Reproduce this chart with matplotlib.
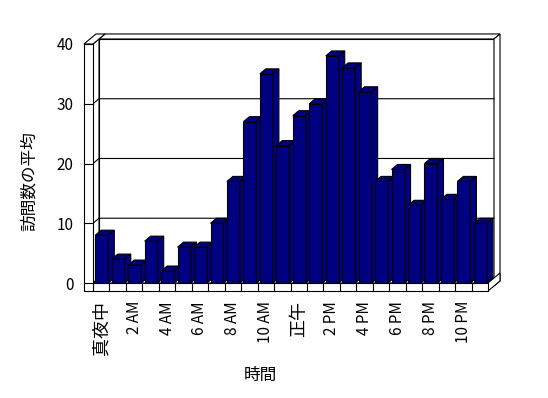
"""Average visits per hour, drawn as an old-style 3D column chart."""

import matplotlib

matplotlib.use("Agg")
import matplotlib.pyplot as plt
from matplotlib.patches import Polygon

plt.rcParams["font.family"] = ["Noto Sans CJK JP", "DejaVu Sans"]

VISITS = [8, 4, 3, 7, 2, 6, 6, 10, 17, 27, 35, 23, 28, 30, 38, 36, 32, 17, 19, 13, 20, 14, 17, 10]
HOUR_LABELS = ["真夜中", "2 AM", "4 AM", "6 AM", "8 AM", "10 AM",
               "正午", "2 PM", "4 PM", "6 PM", "8 PM", "10 PM"]
Y_TICKS = [0, 10, 20, 30, 40]

BAR_COLOR = "#000080"
LW = 0.8
# depth offsets of the fake 3D projection, in data units
DX, DY = 0.365, 0.84
WALL_X = 0.55    # left wall thickness
FLOOR_Y = 1.34   # floor thickness
BAR_LEFT, BAR_WIDTH = 0.14, 0.79

n = len(VISITS)
ymax = Y_TICKS[-1]

fig = plt.figure(figsize=(5.48, 3.98), dpi=100)
ax = fig.add_axes([93 / 548, 1 - 283 / 398, 395 / 548, 239 / 398])
ax.set_xlim(0, n)
ax.set_ylim(0, ymax)
for spine in ax.spines.values():
    spine.set_visible(False)
ax.patch.set_visible(False)


def face(points, color="white", z=1.0):
    ax.add_patch(Polygon(points, closed=True, facecolor=color, edgecolor="black",
                         linewidth=LW, clip_on=False, zorder=z))


# back wall: inner face, top, right side
face([(DX, DY), (n + DX, DY), (n + DX, ymax + DY), (DX, ymax + DY)], z=1.0)
face([(DX, ymax + DY), (n + DX, ymax + DY), (n + 2 * DX, ymax + 2 * DY), (2 * DX, ymax + 2 * DY)], z=1.0)
face([(n + DX, -FLOOR_Y + DY), (n + DX, ymax + DY), (n + 2 * DX, ymax + 2 * DY),
      (n + 2 * DX, -FLOOR_Y + 2 * DY)], z=1.0)

# left wall inner face + gridlines
face([(0, 0), (DX, DY), (DX, ymax + DY), (0, ymax)], z=1.5)
for v in Y_TICKS[1:-1]:
    ax.plot([0, DX, n + DX], [v, v + DY, v + DY], color="black", lw=LW, clip_on=False, zorder=2)

# floor top and right side
face([(0, 0), (n, 0), (n + DX, DY), (DX, DY)], z=2.5)
face([(n, -FLOOR_Y), (n, 0), (n + 2 * DX, 2 * DY), (n + 2 * DX, -FLOOR_Y + 2 * DY)], z=2.5)

# columns, left to right so each front face covers the previous side face
for i, v in enumerate(VISITS):
    z = 3 + i * 0.1
    x0 = i + BAR_LEFT
    x1 = x0 + BAR_WIDTH
    ax.bar(x0, v, width=BAR_WIDTH, align="edge", color=BAR_COLOR, edgecolor="black",
           linewidth=LW, zorder=z, clip_on=False)
    face([(x0, v), (x1, v), (x1 + DX, v + DY), (x0 + DX, v + DY)], BAR_COLOR, z + 0.01)
    face([(x1, 0), (x1 + DX, DY), (x1 + DX, v + DY), (x1, v)], BAR_COLOR, z + 0.01)

# floor front face with category ticks
face([(0, -FLOOR_Y), (n, -FLOOR_Y), (n, 0), (0, 0)], z=50)
for k in range(1, n):
    ax.plot([k, k], [-FLOOR_Y, 0], color="black", lw=LW, clip_on=False, zorder=51)

# left wall front and top
face([(-WALL_X, -FLOOR_Y), (0, -FLOOR_Y), (0, ymax), (-WALL_X, ymax)], z=50)
face([(-WALL_X, ymax), (0, ymax), (2 * DX, ymax + 2 * DY), (-WALL_X + 2 * DX, ymax + 2 * DY)], z=50)
for v in Y_TICKS:
    ax.plot([-WALL_X, 0], [v, v], color="black", lw=LW, clip_on=False, zorder=51)

ax.set_yticks(Y_TICKS)
ax.tick_params(axis="y", length=0, pad=14, labelsize=11)
ax.set_xticks([i + 0.5 for i in range(0, n, 2)])
ax.set_xticklabels(HOUR_LABELS, rotation=90)
ax.tick_params(axis="x", length=0, pad=13, labelsize=11)
for label in ax.get_xticklabels():
    if not label.get_text()[0].isdigit():
        label.set_fontsize(13)

ax.set_ylabel("訪問数の平均", fontsize=12)
ax.yaxis.set_label_coords(-0.162, 0.427)
ax.yaxis.label.set_va("center")
ax.set_xlabel("時間", fontsize=12)
ax.xaxis.set_label_coords(0.423, -0.385)
ax.xaxis.label.set_va("center")

fig.savefig("out.png", dpi=100)
